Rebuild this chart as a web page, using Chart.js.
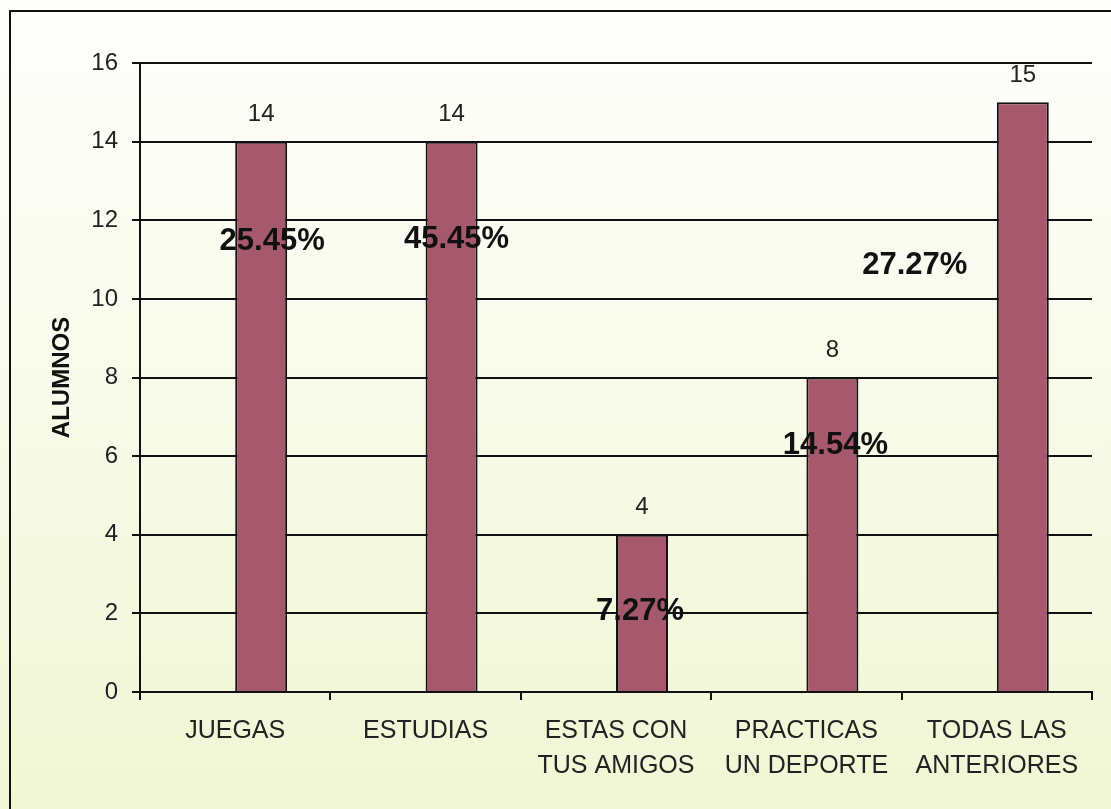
<!DOCTYPE html>
<html>
<head>
<meta charset="utf-8">
<script src="https://cdn.jsdelivr.net/npm/chart.js@4/dist/chart.umd.min.js"></script>
<style>
    html, body { margin: 0; padding: 0; background: #fff; }
    #wrap { width: 1111px; height: 809px; position: relative; }
</style>
</head>
<body>
<div id="wrap"><canvas id="alumnosChart"></canvas></div>
<script>
const categories = ['JUEGAS', 'ESTUDIAS', ['ESTAS CON', 'TUS AMIGOS'], ['PRACTICAS', 'UN DEPORTE'], ['TODAS LAS', 'ANTERIORES']];
const alumnos = [14, 14, 4, 8, 15];
const emptySeries = [0, 0, 0, 0, 0];
const percentLabels = ['25.45%', '45.45%', '7.27%', '14.54%', '27.27%'];
const yTicks = [0, 2, 4, 6, 8, 10, 12, 14, 16];

// where the percentage notes sit: dx in px from the bar centre, y in axis units
const percentPlacement = [
    { dx: 11, y: 11.45 },
    { dx: 5, y: 11.52 },
    { dx: -2, y: 2.04 },
    { dx: 3, y: 6.26 },
    { dx: -108, y: 10.84 }
];

const FONT = '"Liberation Sans", Arial, sans-serif';

const frameAndBackground = {
    id: 'frameAndBackground',
    beforeDraw(chart) {
        const ctx = chart.ctx;
        const g = ctx.createLinearGradient(0, 0, 0, chart.height);
        g.addColorStop(0, '#fefefc');
        g.addColorStop(0.45, '#f9fbeb');
        g.addColorStop(1, '#f1f6d4');
        ctx.save();
        ctx.fillStyle = g;
        ctx.fillRect(0, 0, chart.width, chart.height);
        ctx.strokeStyle = '#111';
        ctx.lineWidth = 2;
        ctx.strokeRect(10, 11, chart.width + 20, chart.height + 20);
        ctx.restore();
    }
};

const barTexts = {
    id: 'barTexts',
    afterDatasetsDraw(chart) {
        const ctx = chart.ctx;
        const meta = chart.getDatasetMeta(1);
        const yScale = chart.scales.y;
        ctx.save();
        ctx.textAlign = 'center';
        ctx.textBaseline = 'middle';

        ctx.font = '24px ' + FONT;
        ctx.fillStyle = '#222';
        meta.data.forEach((bar, i) => {
            ctx.fillText(String(alumnos[i]), bar.x, bar.y - 27);
        });

        ctx.font = 'bold 31px ' + FONT;
        ctx.fillStyle = '#111';
        meta.data.forEach((bar, i) => {
            const p = percentPlacement[i];
            ctx.fillText(percentLabels[i], bar.x + p.dx, yScale.getPixelForValue(p.y));
        });
        ctx.restore();
    }
};

const ctx = document.getElementById('alumnosChart');
new Chart(ctx, {
    type: 'bar',
    data: {
        labels: categories,
        datasets: [{
            label: '%',
            data: emptySeries,
            backgroundColor: 'rgba(0,0,0,0)',
            borderWidth: 0
        }, {
            label: 'ALUMNOS',
            data: alumnos,
            backgroundColor: '#a6586d',
            borderColor: '#111',
            borderWidth: 2
        }]
    },
    options: {
        responsive: true,
        maintainAspectRatio: false,
        animation: false,
        datasets: {
            bar: { categoryPercentage: 0.546, barPercentage: 1.0 }
        },
        layout: {
            padding: { top: 63, right: 19, left: 0, bottom: 0 }
        },
        plugins: {
            legend: { display: false },
            tooltip: { enabled: false }
        },
        scales: {
            x: {
                offset: true,
                afterFit: (scale) => { scale.height = 117; },
                grid: {
                    offset: true,
                    drawOnChartArea: false,
                    drawTicks: true,
                    tickLength: 8,
                    color: '#111',
                    lineWidth: 2
                },
                border: { color: '#111', width: 2 },
                ticks: {
                    color: '#222',
                    padding: 14,
                    maxRotation: 0,
                    autoSkip: false,
                    font: { family: FONT, size: 25, lineHeight: 1.4 }
                }
            },
            y: {
                min: 0,
                max: 16,
                afterFit: (scale) => { scale.width = 140; },
                afterBuildTicks: (scale) => { scale.ticks = yTicks.map(v => ({ value: v })); },
                grid: {
                    color: '#111',
                    lineWidth: 2,
                    drawTicks: true,
                    tickLength: 8
                },
                border: { color: '#111', width: 2 },
                ticks: {
                    color: '#222',
                    padding: 14,
                    font: { family: FONT, size: 24 }
                },
                title: {
                    display: true,
                    text: 'ALUMNOS',
                    color: '#111',
                    padding: { top: 48, bottom: 0 },
                    font: { family: FONT, size: 24, weight: 'bold' }
                }
            }
        }
    },
    plugins: [frameAndBackground, barTexts]
});
</script>
</body>
</html>
